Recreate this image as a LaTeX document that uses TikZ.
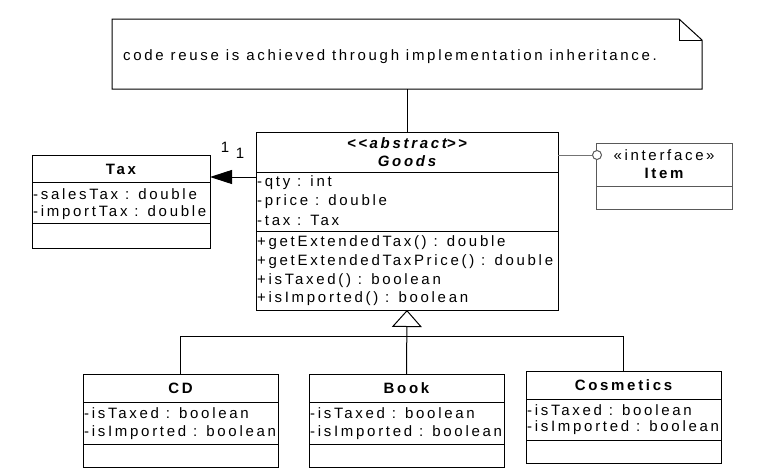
\documentclass[tikz,border=0pt]{standalone}
\usepackage{fontspec}
\setmainfont{Liberation Sans}[LetterSpace=18]
\usetikzlibrary{arrows.meta}
\begin{document}
\begin{tikzpicture}[x=1pt,y=-1pt,
  every node/.style={font=\fontsize{15}{17}\selectfont},
  box/.style={draw, line width=1pt, anchor=north west, inner sep=0, outer sep=0},
  itembox/.style={box, draw=black!65},
  txt/.style={anchor=west, inner sep=0},
  ttl/.style={inner sep=0, font=\fontsize{15}{17}\selectfont\bfseries},
  ttli/.style={inner sep=0, font=\fontsize{15}{17}\selectfont\bfseries\itshape},
  conn/.style={line width=1pt},
  divider/.style={line width=1pt}]
\useasboundingbox (0,0) rectangle (760,474);

% note
\node[minimum width=590, minimum height=70, anchor=north west, inner sep=0, outer sep=0] (note) at (112,19) {};
\draw[line width=1pt] (note.north west) -- ([xshift=-23]note.north east) -- ([yshift=-21]note.north east) -- (note.south east) -- (note.south west) -- cycle;
\draw[line width=1pt] ([xshift=-23]note.north east) -- ([xshift=-23,yshift=-21]note.north east) -- ([yshift=-21]note.north east);
\node[txt] (notetext) at (123,57) {code reuse is achieved through implementation inheritance.};

% Goods
\node[box, minimum width=302, minimum height=178] (goods) at (256,132) {};
\draw[divider] (goods.west |- 0,172) -- (goods.east |- 0,172);
\draw[divider] (goods.west |- 0,231) -- (goods.east |- 0,231);
\node[ttli] (gst) at (407,143) {\mbox{<}\hspace{2.5pt}\mbox{<}\hspace{2.5pt}abstract\mbox{>}\hspace{2.5pt}\mbox{>}};
\node[ttli] (gname) at (407,161) {Goods};
\node[txt] (g1) at (257,183) {-qty : int};
\node[txt] (g2) at (257,202) {-price : double};
\node[txt] (g3) at (257,220) {-tax : Tax};
\node[txt] (g4) at (257,243) {+getExtendedTax() : double};
\node[txt] (g5) at (257,262) {+getExtendedTaxPrice() : double};
\node[txt] (g6) at (257,281) {+isTaxed() : boolean};
\node[txt] (g7) at (257,299) {+isImported() : boolean};

% Tax
\node[box, minimum width=178, minimum height=93] (tax) at (32,155) {};
\draw[divider] (tax.west |- 0,182) -- (tax.east |- 0,182);
\draw[divider] (tax.west |- 0,223) -- (tax.east |- 0,223);
\node[ttl] (taxname) at (121,169) {Tax};
\node[txt] (t1) at (33,194) {-salesTax : double};
\node[txt] (t2) at (33,213) {-importTax : double};

% Item
\node[itembox, minimum width=136, minimum height=66] (item) at (596,143) {};
\draw[divider, black!65] (item.west |- 0,186) -- (item.east |- 0,186);
\node[inner sep=0] (ist) at (664,155) {«interface\,»};
\node[ttl] (iname) at (664,173) {Item};

% CD
\node[box, minimum width=195, minimum height=93] (cd) at (83,374) {};
\draw[divider] (cd.west |- 0,402) -- (cd.east |- 0,402);
\draw[divider] (cd.west |- 0,444) -- (cd.east |- 0,444);
\node[ttl] (cdname) at (180.5,388) {CD};
\node[txt] (c1) at (84,413) {-isTaxed : boolean};
\node[txt] (c2) at (84,433) {-isImported : boolean};

% Book
\node[box, minimum width=195, minimum height=93] (book) at (309,374) {};
\draw[divider] (book.west |- 0,402) -- (book.east |- 0,402);
\draw[divider] (book.west |- 0,444) -- (book.east |- 0,444);
\node[ttl] (bookname) at (406.5,388) {Book};
\node[txt] (b1) at (310,413) {-isTaxed : boolean};
\node[txt] (b2) at (310,433) {-isImported : boolean};

% Cosmetics
\node[box, minimum width=195, minimum height=92] (cos) at (526,371) {};
\draw[divider] (cos.west |- 0,399) -- (cos.east |- 0,399);
\draw[divider] (cos.west |- 0,440) -- (cos.east |- 0,440);
\node[ttl] (cosname) at (623.5,385) {Cosmetics};
\node[txt] (s1) at (527,410) {-isTaxed : boolean};
\node[txt] (s2) at (527,428) {-isImported : boolean};

% connectors
\draw[conn] (note.south) -- (goods.north);
\draw[conn, -{Triangle[open, width=30, length=17, line width=1pt]}] (book.north) -- (goods.south);
\coordinate (bus) at (407,336);
\draw[conn] (cd.north) |- (bus);
\draw[conn] (bus) -| (cos.north);
\draw[conn, -{Triangle[width=14, length=22]}] (goods.west |- 0,177) -- (tax.east |- 0,177);
\node[inner sep=0] (m1) at (225,147) {1};
\node[inner sep=0] (m2) at (240,153) {1};
\node[circle, draw=black!65, line width=1pt, fill=white, minimum size=9, inner sep=0] (lolli) at (597,155) {};
\draw[conn, black!55] (goods.east |- lolli) -- (lolli);
\end{tikzpicture}
\end{document}
